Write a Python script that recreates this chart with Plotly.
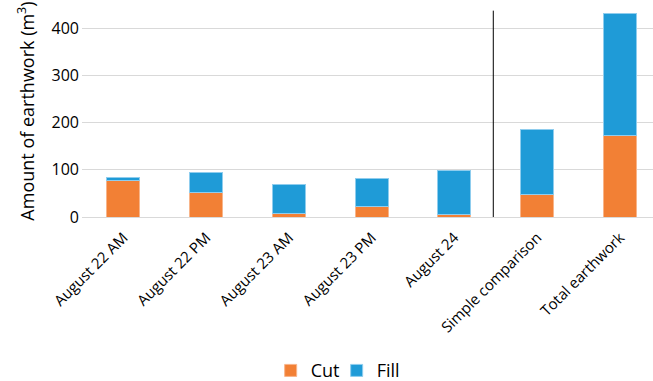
import plotly.graph_objects as go

categories = [
    "August 22 AM",
    "August 22 PM",
    "August 23 AM",
    "August 23 PM",
    "August 24",
    "Simple comparison",
    "Total earthwork",
]
cut = [78, 52, 8, 23, 5, 48, 172]
fill = [6, 42, 62, 58, 94, 137, 259]

ORANGE = "#F28035"
BLUE = "#1F9BD7"
FONT = "Open Sans"

fig = go.Figure()
fig.add_trace(go.Bar(
    name="Cut", x=categories, y=cut, width=0.4,
    marker=dict(color=ORANGE, line=dict(color="#f8b58a", width=1)),
))
fig.add_trace(go.Bar(
    name="Fill", x=categories, y=fill, width=0.4,
    marker=dict(color=BLUE, line=dict(color="#8fcdee", width=1)),
))

# separator between daily values and the summary bars
fig.add_shape(type="line", xref="x", yref="y", x0=4.47, x1=4.47, y0=0, y1=438,
              line=dict(color="black", width=1))

fig.update_layout(
    barmode="stack",
    width=653,
    height=381,
    margin=dict(l=82, r=0, t=5, b=164, autoexpand=False),
    plot_bgcolor="white",
    paper_bgcolor="white",
    font=dict(family=FONT, color="#000000"),
    hovermode=False,
    showlegend=True,
    legend=dict(
        orientation="h", x=0.446, xanchor="center",
        yref="container", y=0.027, yanchor="middle",
        font=dict(size=18, family=FONT), itemwidth=30, traceorder="normal",
        entrywidth=21,
    ),
)
fig.update_xaxes(
    range=[-0.5, 6.4],
    automargin=False,
    tickangle=-45,
    tickfont=dict(size=15, family=FONT),
    ticklabelstandoff=8,
    showline=False,
    showgrid=False,
    ticks="",
)
fig.update_yaxes(
    range=[0, 450],
    automargin=False,
    tickvals=[0, 100, 200, 300, 400],
    tickfont=dict(size=16, family=FONT),
    showgrid=True,
    gridcolor="#d9d9d9",
    gridwidth=1,
    zeroline=True,
    zerolinecolor="#d9d9d9",
    zerolinewidth=1,
    ticks="",
    ticklabelstandoff=2,
    title=dict(text="Amount of earthwork (m<sup>3</sup>)", font=dict(size=18, family=FONT), standoff=12),
)

# drop the browser's default body margin so the chart sits at the page corner
fig.write_html(
    "out.html",
    config={"displayModeBar": False},
    post_script="document.body.style.margin='0px';",
)
